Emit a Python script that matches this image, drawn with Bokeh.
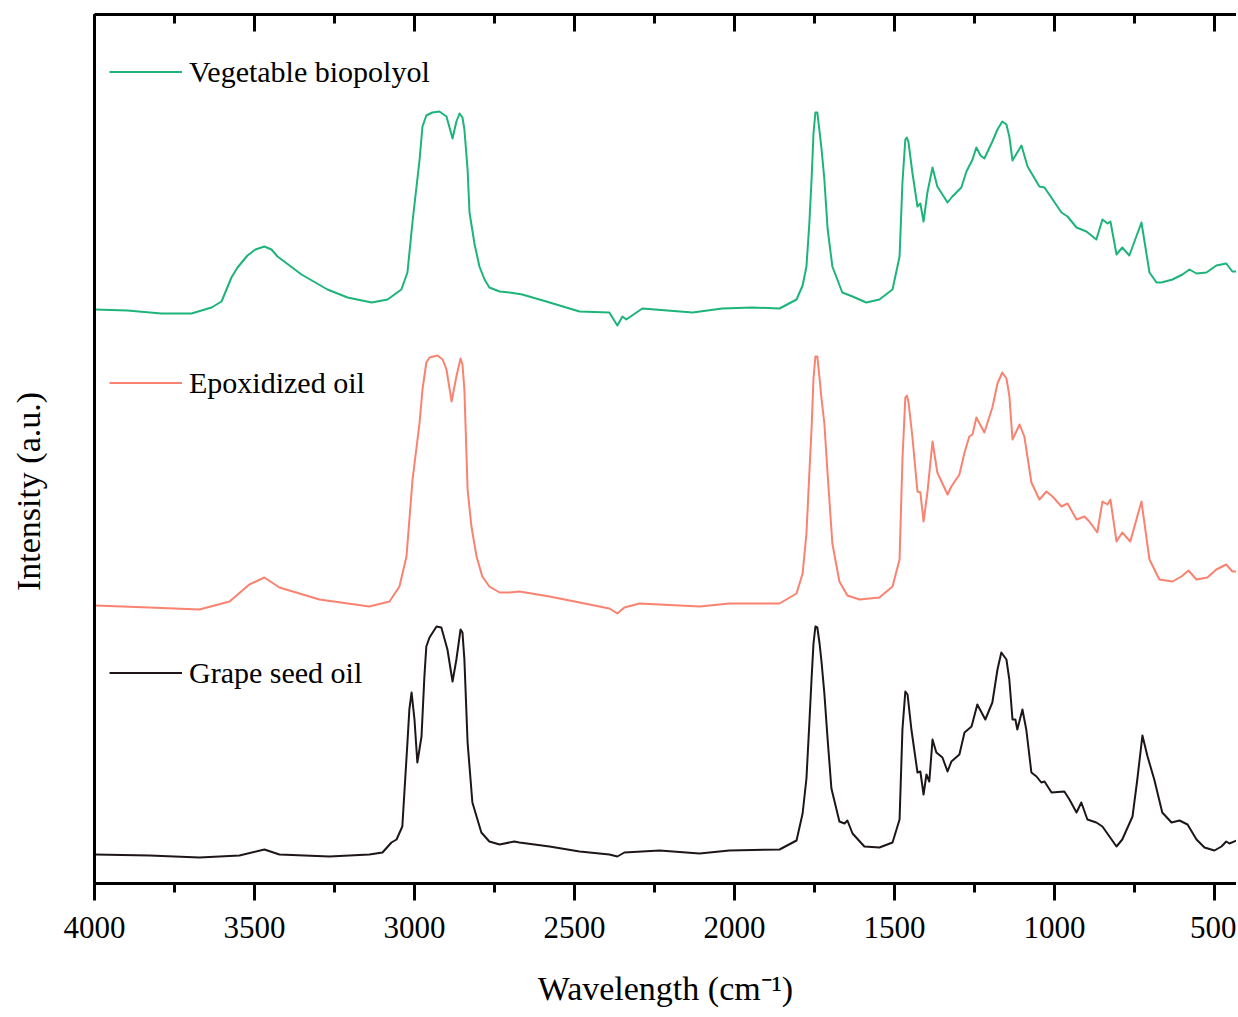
from bokeh.plotting import figure
from bokeh.models import Range1d, LinearAxis, Legend, LegendItem, SingleIntervalTicker, FixedTicker
from bokeh.embed import file_html
from bokeh.resources import INLINE

# ---------------- data (wavenumber cm-1, intensity a.u., stacked offsets included) ----------------
wn_bio = [4000, 3897, 3791, 3697, 3634, 3603, 3572, 3553, 3522, 3497, 3469, 3447, 3428, 3353, 3272,
          3209, 3134, 3084, 3041, 3022, 3006, 2984, 2975, 2963, 2944, 2922, 2900, 2881, 2869, 2859,
          2850, 2844, 2834, 2828, 2812, 2797, 2781, 2766, 2734, 2703, 2663, 2588, 2484, 2391, 2366,
          2350, 2338, 2288, 2131, 2038, 1944, 1859, 1806, 1787, 1775, 1766, 1759, 1753, 1747, 1741,
          1734, 1728, 1719, 1709, 1694, 1663, 1631, 1588, 1547, 1506, 1484, 1475, 1466, 1461, 1456,
          1444, 1428, 1419, 1409, 1397, 1381, 1366, 1334, 1319, 1291, 1275, 1256, 1244, 1231, 1219,
          1194, 1178, 1163, 1150, 1141, 1131, 1103, 1084, 1047, 1031, 978, 959, 931, 900, 869,
          850, 834, 825, 806, 788, 766, 728, 703, 681, 666, 631, 600, 578, 556, 525,
          494, 463, 444, 431]
int_bio = [574, 573, 570, 570, 576, 582, 606, 616, 628, 634, 637, 634, 627, 609, 594,
           586, 581, 584, 594, 611, 662, 724, 757, 768, 771, 772, 767, 745, 762, 770,
           766, 754, 714, 671, 639, 617, 604, 596, 592, 591, 589, 582, 572, 571, 558,
           567, 564, 575, 571, 575, 576, 575, 584, 598, 617, 660, 704, 750, 771, 771,
           752, 735, 704, 655, 617, 591, 587, 581, 584, 594, 627, 701, 744, 746, 741,
           711, 677, 680, 662, 691, 716, 697, 681, 687, 696, 712, 724, 736, 728, 725,
           742, 754, 762, 759, 747, 723, 738, 717, 697, 696, 671, 667, 656, 652, 644,
           664, 660, 662, 629, 636, 628, 661, 611, 601, 601, 604, 609, 614, 610, 611,
           618, 620, 612, 612]

wn_epo = [4000, 3828, 3672, 3578, 3516, 3469, 3422, 3297, 3141, 3078, 3047, 3025, 3006, 2984, 2975,
          2963, 2953, 2928, 2912, 2900, 2884, 2869, 2856, 2850, 2844, 2834, 2822, 2806, 2788, 2766,
          2734, 2703, 2672, 2578, 2484, 2391, 2366, 2344, 2297, 2109, 2016, 1859, 1806, 1787, 1775,
          1766, 1759, 1753, 1747, 1741, 1734, 1728, 1719, 1709, 1694, 1672, 1647, 1609, 1547, 1506,
          1484, 1475, 1466, 1461, 1456, 1444, 1428, 1419, 1409, 1397, 1381, 1366, 1334, 1322, 1297,
          1281, 1266, 1256, 1244, 1219, 1194, 1178, 1163, 1150, 1141, 1131, 1109, 1094, 1072, 1047,
          1025, 1006, 978, 959, 931, 906, 891, 866, 850, 834, 825, 806, 788, 763, 728,
          703, 672, 631, 603, 581, 556, 522, 494, 463, 444, 431]
int_epo = [278, 276, 274, 282, 299, 306, 296, 284, 277, 282, 297, 327, 404, 461, 494,
           521, 526, 528, 524, 514, 482, 507, 525, 519, 494, 394, 357, 327, 307, 297,
           291, 291, 292, 287, 281, 275, 270, 276, 280, 277, 280, 280, 290, 310, 350,
           410, 455, 505, 527, 527, 505, 485, 460, 410, 340, 302, 288, 284, 286, 297,
           324, 424, 486, 488, 481, 447, 392, 391, 362, 391, 442, 411, 389, 397, 409,
           431, 447, 449, 466, 451, 476, 500, 511, 505, 488, 444, 459, 447, 401, 384,
           392, 387, 377, 380, 364, 367, 362, 351, 382, 379, 384, 342, 351, 342, 382,
           324, 304, 302, 307, 313, 304, 306, 314, 319, 312, 312]

wn_grape = [4000, 3828, 3672, 3547, 3469, 3422, 3266, 3141, 3100, 3072, 3056, 3038, 3022, 3016, 3009,
            3000, 2991, 2978, 2969, 2963, 2953, 2931, 2916, 2897, 2881, 2869, 2856, 2850, 2844, 2834,
            2819, 2791, 2766, 2734, 2688, 2672, 2578, 2484, 2391, 2366, 2344, 2234, 2109, 2016, 1859,
            1806, 1787, 1775, 1766, 1759, 1753, 1747, 1741, 1734, 1728, 1719, 1709, 1697, 1672, 1656,
            1647, 1631, 1594, 1547, 1506, 1484, 1475, 1466, 1459, 1447, 1428, 1419, 1409, 1400, 1391,
            1381, 1369, 1350, 1334, 1322, 1297, 1281, 1259, 1241, 1216, 1194, 1178, 1166, 1150, 1141,
            1131, 1122, 1116, 1100, 1088, 1072, 1056, 1041, 1031, 1009, 969, 953, 931, 916, 897,
            869, 850, 828, 806, 788, 756, 741, 725, 709, 688, 663, 634, 609, 584, 556,
            531, 500, 478, 463, 453, 431]
int_grape = [29, 28, 26, 28, 34, 29, 27, 29, 31, 41, 44, 57, 141, 174, 191,
             164, 121, 147, 207, 237, 246, 257, 256, 234, 202, 224, 254, 251, 224, 141,
             81, 51, 42, 39, 42, 41, 37, 32, 29, 27, 31, 33, 30, 33, 34,
             43, 70, 105, 160, 205, 240, 257, 256, 240, 222, 190, 145, 95, 62, 60,
             63, 50, 37, 36, 41, 64, 154, 192, 189, 154, 111, 112, 89, 109, 102,
             144, 131, 126, 112, 122, 129, 151, 157, 179, 164, 181, 214, 231, 224, 204,
             164, 164, 154, 174, 154, 111, 107, 101, 102, 91, 92, 84, 71, 81, 64,
             61, 57, 47, 37, 44, 67, 104, 148, 127, 104, 71, 61, 63, 59, 44,
             36, 33, 37, 42, 40, 43]

labels = ["Vegetable biopolyol", "Epoxidized oil", "Grape seed oil"]
colors = ["#1db47a", "#fa8270", "#1e1616"]
x_ticks_interval = 500

FONT = "Liberation Serif"

p = figure(width=1236, height=1014, output_backend="svg", toolbar_location=None,
           x_range=Range1d(4000, 431), y_range=Range1d(0, 869),
           x_axis_location=None, y_axis_location=None,
           min_border_left=94, min_border_top=14, min_border_right=0, min_border_bottom=131)
p.outline_line_color = None
p.grid.visible = False
p.background_fill_color = "white"

ticker = SingleIntervalTicker(interval=x_ticks_interval, num_minor_ticks=2)

bottom = LinearAxis(ticker=ticker, axis_label="Wavelength (cm\u207b\u00b9)")
bottom.axis_line_width = 3
bottom.major_tick_line_width = 3
bottom.minor_tick_line_width = 3
bottom.major_tick_out = 17
bottom.major_tick_in = 0
bottom.minor_tick_out = 9
bottom.minor_tick_in = 0
bottom.major_label_standoff = 16
bottom.major_label_text_font = FONT
bottom.major_label_text_font_size = "31px"
bottom.major_label_text_color = "black"
bottom.axis_label_text_font = FONT
bottom.axis_label_text_font_size = "34px"
bottom.axis_label_text_font_style = "normal"
bottom.axis_label_text_color = "black"
bottom.axis_label_standoff = 29
p.add_layout(bottom, "below")

top = LinearAxis(ticker=ticker)
top.axis_line_width = 3
top.major_tick_line_width = 3
top.minor_tick_line_width = 3
top.major_tick_out = 0
top.major_tick_in = 17
top.minor_tick_out = 0
top.minor_tick_in = 9
top.major_label_standoff = 0
top.major_label_text_font_size = "1px"
top.major_label_text_color = None
p.add_layout(top, "above")

left = LinearAxis(ticker=FixedTicker(ticks=[]), axis_label="Intensity (a.u.)" + "\u00a0" * 10)
left.axis_line_width = 3
left.major_tick_out = 0
left.major_tick_in = 0
left.minor_tick_out = 0
left.minor_tick_in = 0
left.major_label_standoff = 0
left.major_label_text_font_size = "1px"
left.major_label_text_color = None
left.axis_label_text_font = FONT
left.axis_label_text_font_size = "34px"
left.axis_label_text_font_style = "normal"
left.axis_label_text_color = "black"
left.axis_label_standoff = 48
p.add_layout(left, "left")

series = [(wn_bio, int_bio), (wn_epo, int_epo), (wn_grape, int_grape)]
renderers = []
for (xs, ys), c in zip(series, colors):
    renderers.append(p.line(xs, ys, line_color=c, line_width=2, line_join="round"))

legend_locs = [(15, 794), (15, 483), (15, 193)]
for r, lab, loc in zip(renderers, labels, legend_locs):
    leg = Legend(items=[LegendItem(label=lab, renderers=[r])], location=loc,
                 glyph_width=73, glyph_height=35, label_height=35, label_standoff=7,
                 padding=0, margin=0, spacing=0, border_line_color=None,
                 background_fill_alpha=0, label_text_font=FONT,
                 label_text_font_size="30px", label_text_color="black")
    p.add_layout(leg)

open("out.html", "w").write(file_html(p, INLINE))
